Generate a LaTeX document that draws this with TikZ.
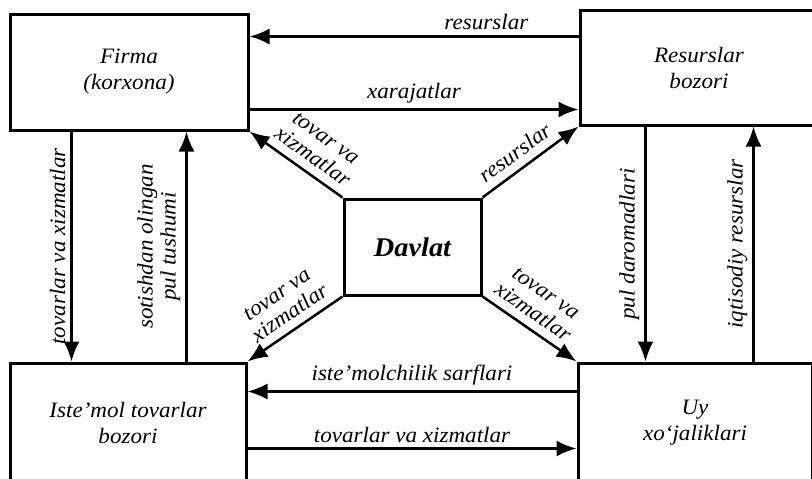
\documentclass[tikz,border=0pt]{standalone}
\usepackage{fontspec}
\setmainfont{Liberation Serif}[FakeStretch=1.05]
\usetikzlibrary{arrows.meta}

\begin{document}
\begin{tikzpicture}[x=1pt,y=-1pt,>={Latex[length=20pt,width=16pt]},
  box/.style={draw,line width=3pt,inner sep=0pt,align=center,font=\itshape\fontsize{22}{26}\selectfont},
  flow/.style={line width=2.5pt},
  lbl/.style={font=\itshape\fontsize{22}{23}\selectfont,align=center,inner sep=5pt}]
  \clip (0,0) rectangle (812,479);
  \node[box,minimum width=238pt,minimum height=116pt] (firma)   at (129,72)    {Firma\\(korxona)};
  \node[box,minimum width=238pt,minimum height=115pt] (resurs)  at (699,67.5)  {Resurslar\\bozori};
  \node[box,minimum width=137pt,minimum height=96pt,font=\bfseries\itshape\fontsize{27}{30}\selectfont] (davlat) at (412.5,247) {Davlat};
  \node[box,minimum width=236pt,minimum height=120pt] (istemol) at (128,423)   {Iste’mol tovarlar\\bozori};
  \node[box,minimum width=234pt,minimum height=120pt] (uy)      at (695,423)   {Uy\\xo‘jaliklari};

  \coordinate (rs) at ([yshift=-28pt]resurs.north west);
  \coordinate (xa) at ([yshift=22pt]firma.south east);
  \coordinate (tx) at ([xshift=63pt]firma.south west);
  \coordinate (st) at ([xshift=178pt]firma.south west);
  \coordinate (pd) at ([xshift=67pt]resurs.south west);
  \coordinate (iq) at ([xshift=175pt]resurs.south west);
  \coordinate (is) at ([yshift=-30pt]uy.north west);
  \coordinate (tv) at ([yshift=-87pt]istemol.north east);

  \draw[->,flow] (rs) -- node[lbl,above,pos=0.28] {resurslar} (rs -| firma.east);
  \draw[->,flow] (xa) -- node[lbl,above] {xarajatlar} (xa -| resurs.west);
  \draw[<-,flow] (tx |- istemol.north) -- node[lbl,sloped,above] {tovarlar va xizmatlar} (tx);
  \draw[->,flow] (st |- istemol.north) -- node[lbl,sloped,above] {sotishdan olingan\\pul tushumi} (st);
  \draw[<-,flow] (pd |- uy.north) -- node[lbl,sloped,above] {pul daromadlari} (pd);
  \draw[->,flow] (iq |- uy.north) -- node[lbl,sloped,above] {iqtisodiy resurslar} (iq);
  \draw[->,flow] (is) -- node[lbl,above] {iste’molchilik sarflari} (is -| istemol.east);
  \draw[->,flow] (tv) -- node[lbl,above] {tovarlar va xizmatlar} (tv -| uy.west);

  \path[->,flow] (davlat.north west) edge node[lbl,sloped,above=3pt,pos=0.42] {tovar va\\xizmatlar} (firma.south east)
                 (davlat.north east) edge node[lbl,sloped,above=3pt,pos=0.44] {resurslar} (resurs.south west)
                 (davlat.south west) edge node[lbl,sloped,above=3pt,pos=0.46] {tovar va\\xizmatlar} (istemol.north east)
                 (davlat.south east) edge node[lbl,sloped,above=3pt,pos=0.44] {tovar va\\xizmatlar} (uy.north west);
\end{tikzpicture}
\end{document}
